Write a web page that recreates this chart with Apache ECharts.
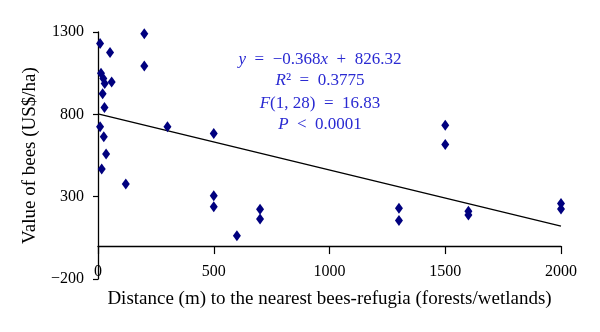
<!DOCTYPE html>
<html><head><meta charset="utf-8">
<script src="https://cdn.jsdelivr.net/npm/echarts@6/dist/echarts.min.js"></script>
<style>html,body{margin:0;padding:0;background:#fff}#c{width:600px;height:332px}</style>
</head><body><div id="c"></div>
<script>
// Distance (m) to the nearest bees-refugia
const distance = [9, 200, 52, 13, 23, 29, 59, 200, 20, 28, 9, 25, 35, 16, 120, 300, 500, 500, 500, 700, 700, 600, 1500, 1500, 1300, 1300, 1600, 1600, 2000, 2000];
// Value of bees (US$/ha)
const beeValue = [1230, 1290, 1175, 1050, 1018, 988, 997, 1094, 925, 842, 724, 664, 559, 468, 377, 724, 684, 306, 239, 224, 165, 62, 734, 617, 230, 155, 212, 188, 258, 225];
// Fitted trend line endpoints
const trendX = [0, 2000];
const trendY = [803, 121];
// Axis ticks
const xTicks = [0, 500, 1000, 1500, 2000];
const yTicks = [-200, 300, 800, 1300];
// Annotation lines
const annotation = ['{i|y}\u2002=\u2002−0.368{i|x}\u2002+\u2002826.32', '{i|R}²\u2002=\u20020.3775', '{i|F}(1, 28)\u2002=\u200216.83', '{i|P}\u2002<\u20020.0001'];

const FONT = '"Liberation Serif", "DejaVu Serif", serif';
const BLUE = '#2a2ad2';
const chart = echarts.init(document.getElementById('c'), null, {renderer: 'canvas'});
const annY = [60, 81, 104, 125];
chart.setOption({
  animation: false,
  backgroundColor: '#fff',
  grid: {left: 98, top: 32, width: 463, height: 247, containLabel: false, outerBoundsMode: 'none'},
  xAxis: {
    type: 'value', min: xTicks[0], max: xTicks[xTicks.length - 1], interval: xTicks[1] - xTicks[0],
    splitLine: {show: false},
    axisLine: {onZero: true, lineStyle: {color: '#000', width: 1.3}},
    axisTick: {length: 8, lineStyle: {color: '#000', width: 1.2}},
    axisLabel: {margin: -15, color: '#000', fontFamily: FONT, fontSize: 16, formatter: v => String(v)},
    name: 'Distance (m) to the nearest bees-refugia (forests/wetlands)',
    nameLocation: 'middle', nameGap: 11,
    nameTextStyle: {color: '#000', fontFamily: FONT, fontSize: 19}
  },
  yAxis: {
    type: 'value', min: yTicks[0], max: yTicks[yTicks.length - 1], interval: yTicks[1] - yTicks[0],
    splitLine: {show: false},
    axisLine: {show: true, onZero: false, lineStyle: {color: '#000', width: 1.3}},
    axisTick: {show: true, length: 5, lineStyle: {color: '#000', width: 1.2}},
    axisLabel: {margin: 14, color: '#000', fontFamily: FONT, fontSize: 16,
      formatter: v => String(v).replace('-', '−')},
    name: 'Value of bees (US$/ha)',
    nameLocation: 'middle', nameGap: 58,
    nameTextStyle: {color: '#000', fontFamily: FONT, fontSize: 19}
  },
  graphic: annotation.map((t, i) => ({
    type: 'text', x: 320, y: annY[i], z: 10,
    style: {
      text: t, align: 'center', verticalAlign: 'middle',
      fontFamily: FONT, fontSize: 17, fill: BLUE,
      rich: {i: {fontFamily: FONT, fontSize: 17, fontStyle: 'italic', fill: BLUE}}
    }
  })),
  series: [
    {
      type: 'line', z: 1, showSymbol: false, symbol: 'none',
      data: trendX.map((x, i) => [x, trendY[i]]),
      lineStyle: {color: '#000', width: 1.3}
    },
    {
      type: 'scatter', z: 2, symbol: 'diamond', symbolSize: [8, 11],
      data: distance.map((d, i) => [d, beeValue[i]]),
      itemStyle: {color: '#00007f', opacity: 1}
    }
  ]
});
</script></body></html>
